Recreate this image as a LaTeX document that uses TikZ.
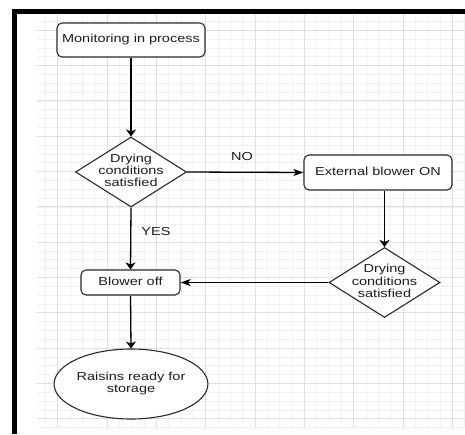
\documentclass[tikz,border=0pt]{standalone}
\usepackage{fontspec}
\usepackage{graphicx}
\setmainfont{Liberation Sans}
\usetikzlibrary{shapes.geometric,arrows.meta}
\newcommand\sqz[1]{\scalebox{1}[0.8]{\begin{tabular}{@{}c@{}}#1\end{tabular}}}
\definecolor{gminor}{HTML}{F2F2F2}
\definecolor{gmajor}{HTML}{E0E0E0}
\definecolor{txt}{HTML}{1E1E1E}
\definecolor{edge}{HTML}{2A2A2A}
\tikzset{
  minorline/.style={draw=gminor,line width=0.8pt},
  majorline/.style={draw=gmajor,line width=0.9pt},
  procbox/.style={draw=edge,line width=1.1pt,rounded corners=5pt,fill=white,inner sep=0pt,text=txt,
    font=\fontsize{14.5}{15.6}\selectfont},
  decide/.style={draw=edge,line width=1.1pt,diamond,fill=white,inner sep=0pt,minimum width=111pt,minimum height=70pt},
  termin/.style={draw=edge,line width=1.1pt,ellipse,fill=white,inner sep=0pt,minimum width=148pt,minimum height=70pt,text=txt,
    font=\fontsize{14.5}{15.6}\selectfont},
  lbl/.style={text=txt,inner sep=0pt,font=\fontsize{14.5}{15.6}\selectfont},
  varrow/.style={draw=black,line width=1.3pt,-{Stealth[length=7pt,width=10pt,inset=2pt]}},
  harrow/.style={draw=black,line width=1.3pt,-{Stealth[length=10pt,width=7pt,inset=2.5pt]}},
}
\begin{document}
\begin{tikzpicture}[x=1pt,y=-1pt]
\useasboundingbox (0,0) rectangle (465,434);
\fill[white] (0,0) rectangle (465,434);
% grid
\begin{scope}
\clip (37,14) rectangle (465,427);
\foreach \i in {-2,...,36} \draw[minorline] ({57.8+\i*12.33},14) -- ++(0,413);
\foreach \j in {-2,...,46} \draw[minorline] (37,{30.3+\j*8.83}) -- ++(428,0);
\foreach \i in {-1,...,9} \draw[majorline] ({57.8+\i*49.33},14) -- ++(0,413);
\foreach \j in {-1,...,12} \draw[majorline] (37,{30.3+\j*35.3}) -- ++(428,0);
\end{scope}
% black frame
\fill[black] (12,9) rectangle (465,13.5);
\fill[black] (12,9) rectangle (16.5,434);
% nodes
\node[procbox,minimum width=148pt,minimum height=34pt] (mon) at (131,40) {\sqz{Monitoring in process}};
\node[decide,label={[lbl,name=d1t]center:\sqz{Drying\\conditions\\satisfied}}] (d1) at (131,172) {};
\node[procbox,minimum width=148pt,minimum height=35pt] (ext) at (378,172.5) {\sqz{External blower ON}};
\node[decide,label={[lbl,name=d2t]center:\sqz{Drying\\conditions\\satisfied}}] (d2) at (384.5,282.5) {};
\node[procbox,minimum width=99pt,minimum height=25pt] (off) at (130.5,282.5) {\sqz{Blower off}};
\node[termin] (rai) at (131,384) {\sqz{Raisins ready for\\storage}};
% labels
\node[lbl] (no) at (242,158) {\sqz{NO}};
\node[lbl] (yes) at (156,233) {\sqz{YES}};
% connectors
\draw[varrow] (mon.south) -- (d1.north);
\draw[harrow] (d1.east) -- (ext.west);
\draw[varrow] (d1.south) -- (off.north);
\draw[varrow] (ext.south -| d2.north) -- (d2.north);
\draw[harrow] (d2.west) -- (off.east);
\draw[varrow] (off.south) -- (rai.north);
\end{tikzpicture}
\end{document}
